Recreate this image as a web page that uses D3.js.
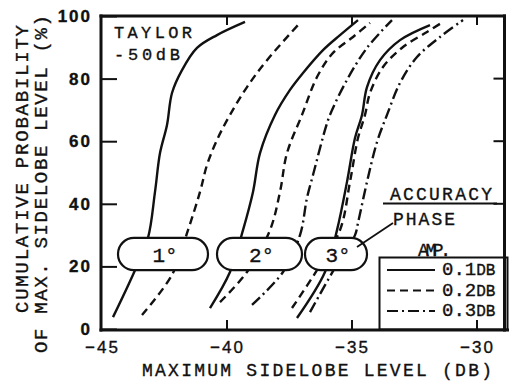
<!DOCTYPE html>
<html>
<head>
<meta charset="utf-8">
<script src="https://cdn.jsdelivr.net/npm/d3@7"></script>
<style>
  body { margin: 0; background: #fff; overflow: hidden; }
  svg { display: block; }
  text { fill: #111; font-family: "Liberation Mono", monospace; stroke: #111; stroke-width: 0.35px; }
  .curve { fill: none; stroke: #111; stroke-width: 2.4px; }
</style>
</head>
<body>
<script>
// levels in dB, cumulative probability in %
var xTicks = [-45, -40, -35, -30];
var yTicks = [0, 20, 40, 60, 80, 100];
var topTicks = [-40, -35, -30];
var bottomTicks = [-40, -35, -30];
var rightTicks = [40, 60, 80];

// phase 1 deg
var p1a01_x = [-44.56, -43.68, -43.16, -42.88, -42.68, -42.40, -42.20, -41.80, -41.20, -40.40, -39.28];
var p1a01_y = [3.8, 18.8, 29.1, 43.8, 56.2, 65.2, 75.4, 82.7, 89.8, 93.9, 98.1];
var p1a02_x = [-43.40, -42.20, -41.56, -41.08, -40.80, -40.40, -39.88, -39.20, -38.40, -37.08];
var p1a02_y = [4.5, 17.3, 31.6, 43.8, 52.4, 60.4, 68.4, 77.3, 85.9, 97.8];
// phase 2 deg
var p2a01_x = [-40.68, -39.88, -39.36, -38.96, -38.68, -38.08, -37.48, -36.96, -36.16, -35.48, -34.76];
var p2a01_y = [6.7, 18.2, 31.6, 43.8, 56.2, 68.4, 76.4, 81.8, 89.1, 93.9, 98.7];
var p2a02_x = [-40.28, -39.20, -38.28, -37.88, -37.60, -37.00, -36.40, -35.76, -34.96, -34.28];
var p2a02_y = [8.6, 18.2, 31.6, 43.8, 56.2, 68.4, 80.5, 88.2, 93.3, 97.8];
var p2a03_x = [-39.00, -37.76, -37.08, -36.80, -36.56, -36.08, -35.88, -35.20, -34.40, -33.40];
var p2a03_y = [7.7, 18.2, 30.0, 41.9, 49.2, 63.6, 68.4, 79.6, 89.8, 98.7];
// phase 3 deg
var p3a01_x = [-37.20, -36.08, -35.60, -35.20, -34.88, -34.60, -34.40, -33.88, -33.08, -31.88];
var p3a01_y = [3.5, 18.2, 31.6, 47.0, 61.0, 68.4, 77.3, 85.9, 92.3, 97.1];
var p3a02_x = [-37.40, -36.40, -35.48, -35.08, -34.76, -34.48, -34.28, -33.76, -32.96, -32.00, -31.36];
var p3a02_y = [6.7, 18.8, 31.6, 47.0, 61.0, 68.4, 75.4, 83.7, 90.1, 94.9, 98.1];
var p3a03_x = [-36.68, -35.80, -34.88, -34.76, -34.40, -34.00, -33.60, -33.08, -32.40, -31.48, -30.56];
var p3a03_y = [5.4, 17.9, 30.0, 33.9, 47.0, 59.7, 68.4, 78.6, 86.9, 93.3, 98.7];

var series = [
  { xs: p1a01_x, ys: p1a01_y, amp: "0.1" },
  { xs: p1a02_x, ys: p1a02_y, amp: "0.2" },
  { xs: p2a01_x, ys: p2a01_y, amp: "0.1" },
  { xs: p2a02_x, ys: p2a02_y, amp: "0.2" },
  { xs: p2a03_x, ys: p2a03_y, amp: "0.3" },
  { xs: p3a01_x, ys: p3a01_y, amp: "0.1" },
  { xs: p3a02_x, ys: p3a02_y, amp: "0.2" },
  { xs: p3a03_x, ys: p3a03_y, amp: "0.3" }
];

// phase labels (pills): left / right in dB, bottom / top in %
var phaseLabels = ["1", "2", "3"];
var phaseLeft = [-44.36, -40.40, -36.88];
var phaseRight = [-40.76, -37.00, -34.40];
var phaseBottom = 18.8, phaseTop = 29.1;

var ampLabels = ["0.1", "0.2", "0.3"];
var dashes = { "0.1": null, "0.2": "8,5", "0.3": "11,4,2,4" };

var width = 509, height = 381;

var x = d3.scaleLinear().domain([-45, -28.9]).range([102, 504.5]);
var y = d3.scaleLinear().domain([0, 100]).range([329, 16]);

// plot edges in pixels
var edgeL = 101, edgeR = 504.5, edgeB = 330, edgeT = 16;

var svg = d3.select("body").append("svg")
  .attr("width", width)
  .attr("height", height);

var line = d3.line()
  .x(function (d) { return x(d[0]); })
  .y(function (d) { return y(d[1]); })
  .curve(d3.curveCatmullRom.alpha(0.5));

// curves
svg.append("g")
  .selectAll("path")
  .data(series)
  .enter()
  .append("path")
  .attr("class", "curve")
  .attr("d", function (s) {
    return line(s.xs.map(function (v, i) { return [v, s.ys[i]]; }));
  })
  .style("stroke-dasharray", function (s) { return dashes[s.amp]; });

// phase pills drawn over the curves
var pill = svg.append("g")
  .selectAll("g")
  .data(phaseLabels)
  .enter()
  .append("g");

pill.append("rect")
  .attr("x", function (d, i) { return x(phaseLeft[i]); })
  .attr("y", y(phaseTop))
  .attr("width", function (d, i) { return x(phaseRight[i]) - x(phaseLeft[i]); })
  .attr("height", y(phaseBottom) - y(phaseTop))
  .attr("rx", 16)
  .attr("ry", 16)
  .attr("fill", "#fff")
  .attr("stroke", "#111")
  .attr("stroke-width", 2.2);

pill.append("text")
  .attr("x", function (d, i) { return (x(phaseLeft[i]) + x(phaseRight[i])) / 2 + 2; })
  .attr("y", y(phaseBottom) - 8)
  .attr("text-anchor", "middle")
  .style("font-size", "21px")
  .text(function (d) { return d + "°"; });

// axis labels (left ticks from the axis, the rest drawn as bars below)
var yAxis = svg.append("g")
  .attr("transform", "translate(" + edgeL + ",0)")
  .call(d3.axisLeft(y).tickValues(yTicks).tickSizeInner(-16).tickSizeOuter(0).tickPadding(9));

var xAxis = svg.append("g")
  .attr("transform", "translate(0," + edgeB + ")")
  .call(d3.axisBottom(x).tickValues(xTicks).tickSizeInner(0).tickSizeOuter(0).tickPadding(11));

svg.selectAll(".domain").remove();
yAxis.selectAll(".tick line")
  .attr("stroke", "#111")
  .attr("stroke-width", 2);

yAxis.selectAll("text")
  .style("font-family", "'Liberation Sans', sans-serif")
  .style("font-size", "17px")
  .style("font-weight", "bold")
  .style("letter-spacing", "2px");
xAxis.selectAll("text")
  .style("font-family", "'Liberation Sans', sans-serif")
  .style("font-size", "17px")
  .style("letter-spacing", "2px");

// axis titles
svg.append("text")
  .attr("x", 142)
  .attr("y", 376)
  .attr("textLength", 350)
  .attr("lengthAdjust", "spacing")
  .style("font-size", "18px")
  .text("MAXIMUM SIDELOBE LEVEL (DB)");

svg.append("text")
  .attr("transform", "translate(28,313) rotate(-90)")
  .attr("textLength", 288)
  .attr("lengthAdjust", "spacing")
  .style("font-size", "19px")
  .text("CUMULATIVE PROBABILITY");

svg.append("text")
  .attr("transform", "translate(47,353) rotate(-90)")
  .attr("textLength", 338)
  .attr("lengthAdjust", "spacing")
  .style("font-size", "19px")
  .text("OF MAX. SIDELOBE LEVEL (%)");

// title inside plot
svg.append("text")
  .attr("x", 114).attr("y", 38)
  .attr("textLength", 78).attr("lengthAdjust", "spacing")
  .style("font-size", "17px")
  .text("TAYLOR");
svg.append("text")
  .attr("x", 114).attr("y", 60)
  .attr("textLength", 66).attr("lengthAdjust", "spacing")
  .style("font-size", "17px")
  .text("-50dB");

// accuracy notes
svg.append("text")
  .attr("x", 390).attr("y", 200)
  .attr("textLength", 102).attr("lengthAdjust", "spacing")
  .style("font-size", "18px")
  .text("ACCURACY");
svg.append("line")
  .attr("x1", 383).attr("x2", 497).attr("y1", 203.5).attr("y2", 203.5)
  .attr("stroke", "#111").attr("stroke-width", 1.8);
svg.append("text")
  .attr("x", 393).attr("y", 225)
  .attr("textLength", 62).attr("lengthAdjust", "spacing")
  .style("font-size", "18px")
  .text("PHASE");
svg.append("line")
  .attr("x1", 357).attr("y1", 247).attr("x2", 393).attr("y2", 223)
  .attr("stroke", "#111").attr("stroke-width", 1.8);
svg.append("text")
  .attr("x", 418).attr("y", 256)
  .attr("textLength", 33).attr("lengthAdjust", "spacing")
  .style("font-size", "18px")
  .text("AMP.");

// legend
var legend = svg.append("g");
legend.append("rect")
  .attr("x", 379.5).attr("y", 257.5)
  .attr("width", 128).attr("height", 72)
  .attr("fill", "#fff")
  .attr("stroke", "#111")
  .attr("stroke-width", 2);

var row = legend.selectAll("g.row")
  .data(ampLabels)
  .enter()
  .append("g")
  .attr("class", "row")
  .attr("transform", function (d, i) { return "translate(0," + (270 + i * 20.5) + ")"; });

row.append("line")
  .attr("x1", 387).attr("x2", 435)
  .attr("stroke", "#111")
  .attr("stroke-width", 1.8)
  .style("stroke-dasharray", function (d) { return dashes[d]; });

row.append("text")
  .attr("x", 442)
  .attr("y", 5)
  .style("font-size", "19px")
  .text(function (d) { return d; })
  .append("tspan")
  .style("font-size", "16px")
  .text("DB");

// frame and inner ticks as filled bars
var bars = svg.append("g").attr("fill", "#111");
function bar(bx, by, bw, bh) {
  bars.append("rect").attr("x", bx).attr("y", by).attr("width", bw).attr("height", bh);
}
bar(edgeL - 1.5, edgeT - 1.5, edgeR - edgeL + 3, 3);
bar(edgeL - 1.5, edgeT - 1.5, 3, edgeB - edgeT + 3);
bar(edgeR - 1.5, edgeT - 1.5, 3, edgeB - edgeT + 3);
bar(edgeL - 1.5, edgeB - 1.5, width - edgeL + 1.5, 3);
topTicks.forEach(function (v) { bar(x(v) - 1, edgeT, 2, 9); });
bottomTicks.forEach(function (v) { bar(x(v) - 1, edgeB - 10, 2, 10); });
rightTicks.forEach(function (v) { bar(edgeR - 11, y(v) - 1, 11, 2); });
</script>
</body>
</html>
